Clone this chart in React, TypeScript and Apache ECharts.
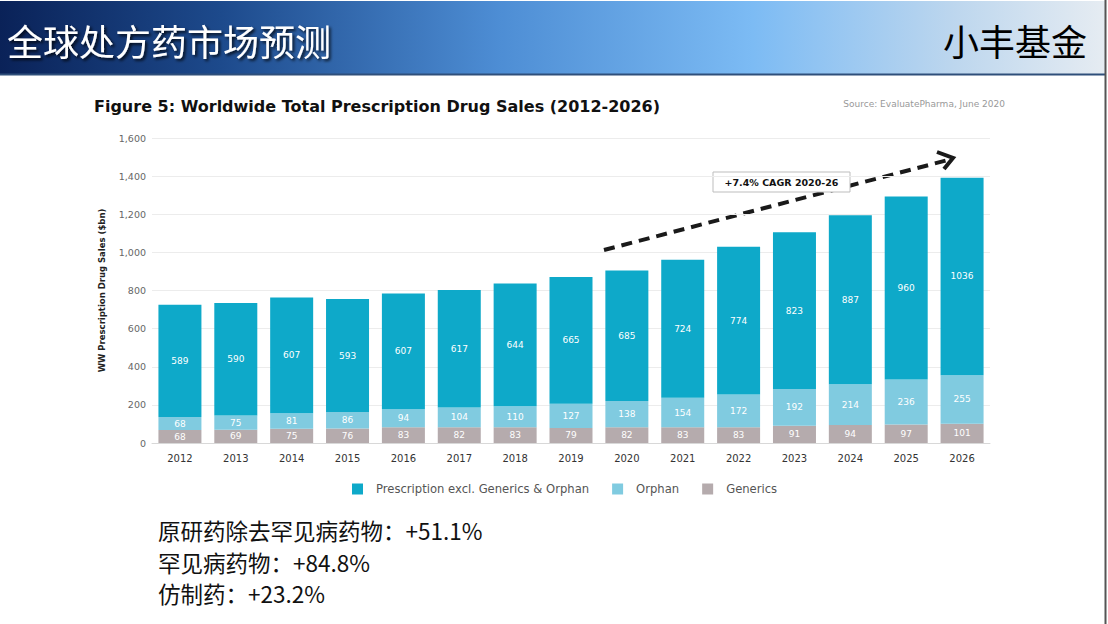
import React, { useEffect, useRef } from "react";
import * as echarts from "echarts";

const categories = ["2012", "2013", "2014", "2015", "2016", "2017", "2018", "2019", "2020", "2021", "2022", "2023", "2024", "2025", "2026"];
const mainValues = [589, 590, 607, 593, 607, 617, 644, 665, 685, 724, 774, 823, 887, 960, 1036];
const orphanValues = [68, 75, 81, 86, 94, 104, 110, 127, 138, 154, 172, 192, 214, 236, 255];
const genericsValues = [68, 69, 75, 76, 83, 82, 83, 79, 82, 83, 83, 91, 94, 97, 101];
const seriesNames = ["Prescription excl. Generics & Orphan", "Orphan", "Generics"];
const notes = ["原研药除去罕见病药物：+51.1%", "罕见病药物：+84.8%", "仿制药：+23.2%"];

export default function App() {
  const ref = useRef<HTMLDivElement>(null);
  useEffect(() => {
    if (!ref.current) return;
    const chart = echarts.init(ref.current, null, { renderer: "svg" });
    const labelCommon = {
      show: true,
      position: "inside",
      color: "#ffffff",
      fontSize: 9,
      fontFamily: "DejaVu Sans",
    };
    chart.setOption({
      animation: false,
      backgroundColor: "#ffffff",
      title: {
        text: "Figure 5: Worldwide Total Prescription Drug Sales (2012-2026)",
        left: 89,
        top: 93,
        textStyle: { fontSize: 16, fontWeight: "bold", color: "#111", fontFamily: "DejaVu Sans" },
      },
      legend: {
        data: seriesNames,
        left: 347,
        top: 478,
        itemWidth: 11,
        itemHeight: 11,
        itemGap: 23,
        icon: "rect",
        textStyle: { fontSize: 11.6, color: "#555", fontFamily: "DejaVu Sans", padding: [0, 0, 0, 8] },
      },
      grid: { left: 152, right: 118, top: 138, bottom: 181 },
      xAxis: {
        type: "category",
        data: categories,
        axisLine: { lineStyle: { color: "#d8d8d8" } },
        axisTick: { show: false },
        axisLabel: { color: "#333", fontSize: 10, margin: 10, fontFamily: "DejaVu Sans" },
      },
      yAxis: {
        type: "value",
        min: 0,
        max: 1600,
        interval: 200,
        name: "WW Prescription Drug Sales ($bn)",
        nameLocation: "middle",
        nameGap: 46,
        nameRotate: 90,
        nameTextStyle: { fontSize: 8.5, fontWeight: "bold", color: "#222", fontFamily: "DejaVu Sans" },
        axisLine: { show: false },
        axisTick: { show: false },
        axisLabel: {
          color: "#666",
          fontSize: 9.5,
          margin: 6,
          fontFamily: "DejaVu Sans",
          formatter: (v: number) => v.toLocaleString("en-US"),
        },
        splitLine: { lineStyle: { color: "#ececec" } },
      },
      series: [
        {
          name: "Generics",
          type: "bar",
          stack: "total",
          data: genericsValues,
          barWidth: 43,
          itemStyle: { color: "#b5abad" },
          label: labelCommon,
        },
        {
          name: "Orphan",
          type: "bar",
          stack: "total",
          data: orphanValues,
          barWidth: 43,
          itemStyle: { color: "#80cbe0" },
          label: labelCommon,
        },
        {
          name: "Prescription excl. Generics & Orphan",
          type: "bar",
          stack: "total",
          data: mainValues,
          barWidth: 43,
          itemStyle: { color: "#0ea9c9" },
          label: labelCommon,
        },
      ],
      graphic: [
        {
          type: "rect",
          shape: { x: 0, y: 1, width: 1106, height: 73 },
          style: {
            fill: new echarts.graphic.LinearGradient(0, 0, 1, 0, [
              { offset: 0, color: "#0a2258" },
              { offset: 0.2, color: "#1d4a8c" },
              { offset: 0.45, color: "#4d8dd4" },
              { offset: 0.68, color: "#7cbbf4" },
              { offset: 0.86, color: "#bcd6ee" },
              { offset: 1, color: "#e6ecf2" },
            ]),
          },
        },
        { type: "line", shape: { x1: 0, y1: 74.5, x2: 1106, y2: 74.5 }, style: { stroke: "#2f4f7a", lineWidth: 2 } },
        { type: "line", shape: { x1: 1105.5, y1: 0, x2: 1105.5, y2: 624 }, style: { stroke: "#555", lineWidth: 2 } },
        {
          type: "text",
          x: 7,
          y: 40,
          style: {
            text: "全球处方药市场预测",
            fill: "#ffffff",
            fontSize: 36,
            fontFamily: "Noto Sans CJK SC",
            verticalAlign: "middle",
            textShadowColor: "rgba(0,0,0,0.8)",
            textShadowBlur: 3,
            textShadowOffsetX: 2,
            textShadowOffsetY: 2,
          },
        },
        {
          type: "text",
          x: 1087,
          y: 40,
          style: {
            text: "小丰基金",
            fill: "#000000",
            fontSize: 36,
            fontFamily: "Noto Sans CJK SC",
            align: "right",
            verticalAlign: "middle",
          },
        },
        {
          type: "text",
          x: 1005,
          y: 104,
          style: {
            text: "Source: EvaluatePharma, June 2020",
            fill: "#999",
            fontSize: 9,
            fontFamily: "DejaVu Sans",
            align: "right",
            verticalAlign: "middle",
          },
        },
        {
          type: "line",
          shape: { x1: 604, y1: 250, x2: 948, y2: 160 },
          style: { stroke: "#1a1a1a", lineWidth: 4, lineDash: [11, 7] },
        },
        {
          type: "polyline",
          shape: { points: [[937, 152], [953, 158], [944, 169]] },
          style: { stroke: "#1a1a1a", lineWidth: 4, fill: "none" },
        },
        {
          type: "rect",
          shape: { x: 713, y: 172, width: 137, height: 20 },
          style: { fill: "#ffffff", stroke: "#bdbdbd", lineWidth: 1 },
        },
        {
          type: "text",
          x: 781.5,
          y: 182,
          style: {
            text: "+7.4% CAGR 2020-26",
            fill: "#111",
            fontSize: 9.5,
            fontWeight: "bold",
            fontFamily: "DejaVu Sans",
            align: "center",
            verticalAlign: "middle",
          },
        },
        ...notes.map((t, i) => ({
          type: "text",
          x: 158,
          y: 530 + i * 31.5,
          style: {
            text: t,
            fill: "#111",
            fontSize: 22.5,
            fontFamily: "Noto Sans CJK SC",
            verticalAlign: "middle",
          },
        })),
      ],
    });
    return () => chart.dispose();
  }, []);
  return (
    <div
      ref={ref}
      style={{ position: "fixed", left: 0, top: 0, width: 1108, height: 624, background: "#fff" }}
    />
  );
}
